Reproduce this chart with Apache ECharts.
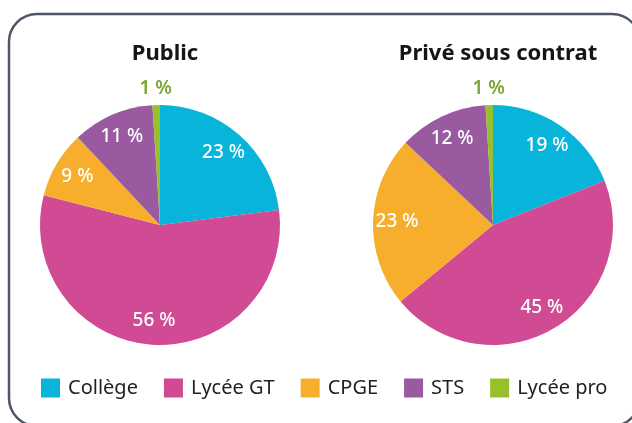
<!DOCTYPE html>
<html>

<head>
    <meta charset="utf-8">
    <script src="https://cdn.jsdelivr.net/npm/echarts@6/dist/echarts.min.js"></script>
    <title>Public / Privé sous contrat</title>
    <style>
        html, body { margin: 0; padding: 0; background: #fff; }
    </style>
</head>

<body>
    <div id="main" style="width:632px;height:423px;"></div>
    <script type="text/javascript">
        var categories = ['Collège', 'Lycée GT', 'CPGE', 'STS', 'Lycée pro'];
        var publicValues = [23, 56, 9, 11, 1];
        var priveValues = [19, 45, 23, 12, 1];
        var titles = ['Public', 'Privé sous contrat'];
        var colors = ['#08b4d9', '#d04b93', '#f7ae2c', '#9a5a9f', '#96c12c'];

        var FONT = '"Noto Sans", sans-serif';
        var centers = [[160, 225], [493, 225]];
        var R = 120;

        var myChart = echarts.init(document.getElementById('main'), null, { renderer: 'canvas' });

        // one pie = a coloured disc + two transparent rings that only carry the labels
        function pieSeries(values, idx) {
            var main = [], inner = [], outer = [];
            for (var i = 0; i < categories.length; i++) {
                var small = values[i] < 3;
                main.push({ name: categories[i], value: values[i], itemStyle: { color: colors[i] } });
                inner.push({ name: categories[i], value: values[i], label: { show: !small } });
                outer.push({ name: categories[i], value: values[i], label: { show: small } });
            }
            var base = {
                type: 'pie',
                center: centers[idx],
                startAngle: 90,
                clockwise: true,
                silent: true,
                animation: false,
                avoidLabelOverlap: false,
                labelLine: { show: false },
                emphasis: { disabled: true }
            };
            return [
                Object.assign({}, base, {
                    name: titles[idx],
                    radius: [0, R],
                    itemStyle: { borderWidth: 0 },
                    label: { show: false },
                    data: main
                }),
                Object.assign({}, base, {
                    name: titles[idx] + '-labels',
                    radius: [66, R],
                    itemStyle: { color: 'rgba(0,0,0,0)', borderWidth: 0 },
                    label: {
                        position: 'inside',
                        formatter: '{c} %',
                        color: '#fff',
                        fontFamily: FONT,
                        fontSize: 19,
                        fontWeight: 500
                    },
                    data: inner
                }),
                Object.assign({}, base, {
                    name: titles[idx] + '-outer',
                    radius: [R + 6, R + 20],
                    itemStyle: { color: 'rgba(0,0,0,0)', borderWidth: 0 },
                    label: {
                        position: 'inside',
                        formatter: '{c} %',
                        color: '#7aa634',
                        fontFamily: FONT,
                        fontSize: 19,
                        fontWeight: 600
                    },
                    data: outer
                })
            ];
        }

        var option = {
            backgroundColor: '#fff',
            color: colors,
            title: [{
                text: titles[0],
                left: centers[0][0],
                top: 38,
                textAlign: 'center',
                textStyle: { fontFamily: FONT, fontSize: 22, fontWeight: 'bold', color: '#151515' }
            }, {
                text: titles[1],
                left: centers[1][0],
                top: 38,
                textAlign: 'center',
                textStyle: { fontFamily: FONT, fontSize: 22, fontWeight: 'bold', color: '#151515' }
            }],
            legend: {
                data: categories,
                left: 41,
                top: 378,
                padding: 0,
                icon: 'rect',
                itemWidth: 19,
                itemHeight: 19,
                itemGap: 26,
                selectedMode: false,
                textStyle: {
                    fontFamily: FONT,
                    fontSize: 20,
                    color: '#222',
                    padding: [0, 0, 0, 3]
                }
            },
            graphic: [{
                type: 'rect',
                shape: { x: 9, y: 14, width: 631, height: 412, r: 28 },
                style: { fill: 'none', stroke: '#4d5766', lineWidth: 2.5 },
                silent: true,
                z: -1
            }],
            series: pieSeries(publicValues, 0).concat(pieSeries(priveValues, 1))
        };

        myChart.setOption(option);
    </script>
</body>

</html>
